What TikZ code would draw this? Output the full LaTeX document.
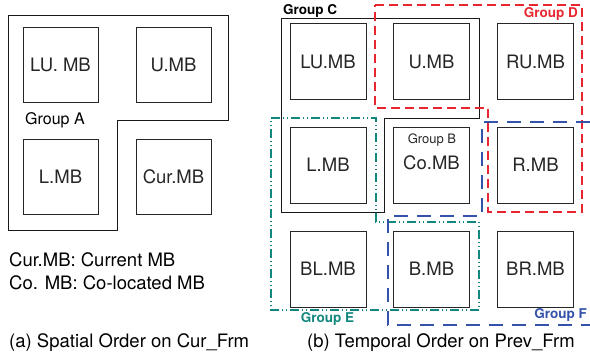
\documentclass[tikz,border=0pt]{standalone}
\usepackage{fontspec}
\setmainfont{TeX Gyre Heros}
\usetikzlibrary{positioning}

\definecolor{grpred}{RGB}{232,38,48}
\definecolor{grpteal}{RGB}{18,135,125}
\definecolor{grpblue}{RGB}{52,82,170}

\begin{document}
\begin{tikzpicture}[x=1pt, y=-1pt, font=\fontsize{18.5}{21}\selectfont,
    mb/.style={draw, black!85, text=black!85, line width=0.8pt, minimum size=75pt, inner sep=0pt},
    grp/.style={line width=0.9pt, black!90},
    grplabel/.style={font=\fontsize{13.5}{15}\selectfont\bfseries, inner sep=0pt}]
  \useasboundingbox (0,0) rectangle (590,360);

  % (a) spatial order on the current frame
  \draw[grp] (8,15) -- (228,15) -- (228,120) -- (117,120) -- (117,230) -- (8,230) -- cycle;
  \node[mb] (alu) at (60.5,64.5) {LU. MB};
  \node[mb] (au) at (173.5,64.5) {U.MB};
  \node[mb] (al) at (60.5,176.5) {L.MB};
  \node[mb] (acur) at (173.5,176.5) {Cur.MB};
  \node[anchor=west, inner sep=0pt, font=\fontsize{16}{18}\selectfont] (grpa) at (25,120) {Group A};

  \node[anchor=west, inner sep=0pt] (note1) at (9,260) {Cur.MB: Current MB};
  \node[anchor=west, inner sep=0pt] (note2) at (9,283) {Co. MB: Co-located MB};
  \node[anchor=west, inner sep=0pt] (capa) at (9,343) {(a) Spatial Order on Cur\_Frm};

  % (b) temporal order on the previous frame
  \node[mb, minimum size=76pt] (blu) at (328,61.5) {LU.MB};
  \node[mb, minimum size=76pt] (bu) at (431.5,61.5) {U.MB};
  \node[mb, minimum size=76pt] (bru) at (535.5,61.5) {RU.MB};
  \node[mb, minimum size=76pt] (bl) at (328,165) {L.MB};
  \node[mb, minimum size=76pt] (bco) at (431.5,165) {};
  \node[mb, minimum size=76pt] (br) at (535.5,165) {R.MB};
  \node[mb, minimum size=76pt] (bbl) at (328,269) {BL.MB};
  \node[mb, minimum size=76pt] (bb) at (431.5,269) {B.MB};
  \node[mb, minimum size=76pt] (bbr) at (535.5,269) {BR.MB};
  \node[inner sep=0pt, text=black!85] (colab) at (431.5,163) {Co.MB};
  \node[inner sep=0pt, text=black!85, font=\fontsize{13}{15}\selectfont] (grpb) at (432,140) {Group B};

  % group outlines
  \draw[grp] (281,18) -- (479,18) -- (479,118) -- (384,118) -- (384,212) -- (281,212) -- cycle;
  \draw[grpred, line width=1.1pt, dash pattern=on 9pt off 5pt]
    (375,5) -- (582,5) -- (582,212) -- (488,212) -- (488,108) -- (375,108) -- cycle;
  \draw[grpteal, line width=1.1pt, dash pattern=on 9pt off 3pt on 1pt off 3pt on 1pt off 3pt]
    (271,118) -- (376,118) -- (376,222) -- (479,222) -- (479,310) -- (271,310) -- cycle;
  \draw[grpblue, line width=1.1pt, dash pattern=on 14pt off 9pt]
    (590,122) -- (482,122) -- (482,216) -- (388,216) -- (388,325) -- (590,325);

  \node[grplabel, anchor=west] (grpc) at (283,11) {Group C};
  \node[grplabel, anchor=east, text=grpred] (grpd) at (578,14) {Group D};
  \node[grplabel, text=grpteal] (grpe) at (327.5,319) {Group E};
  \node[grplabel, anchor=east, text=grpblue] (grpf) at (587,315) {Group F};

  \node[anchor=west, inner sep=0pt] (capb) at (307,343) {(b) Temporal Order on Prev\_Frm};
\end{tikzpicture}
\end{document}
